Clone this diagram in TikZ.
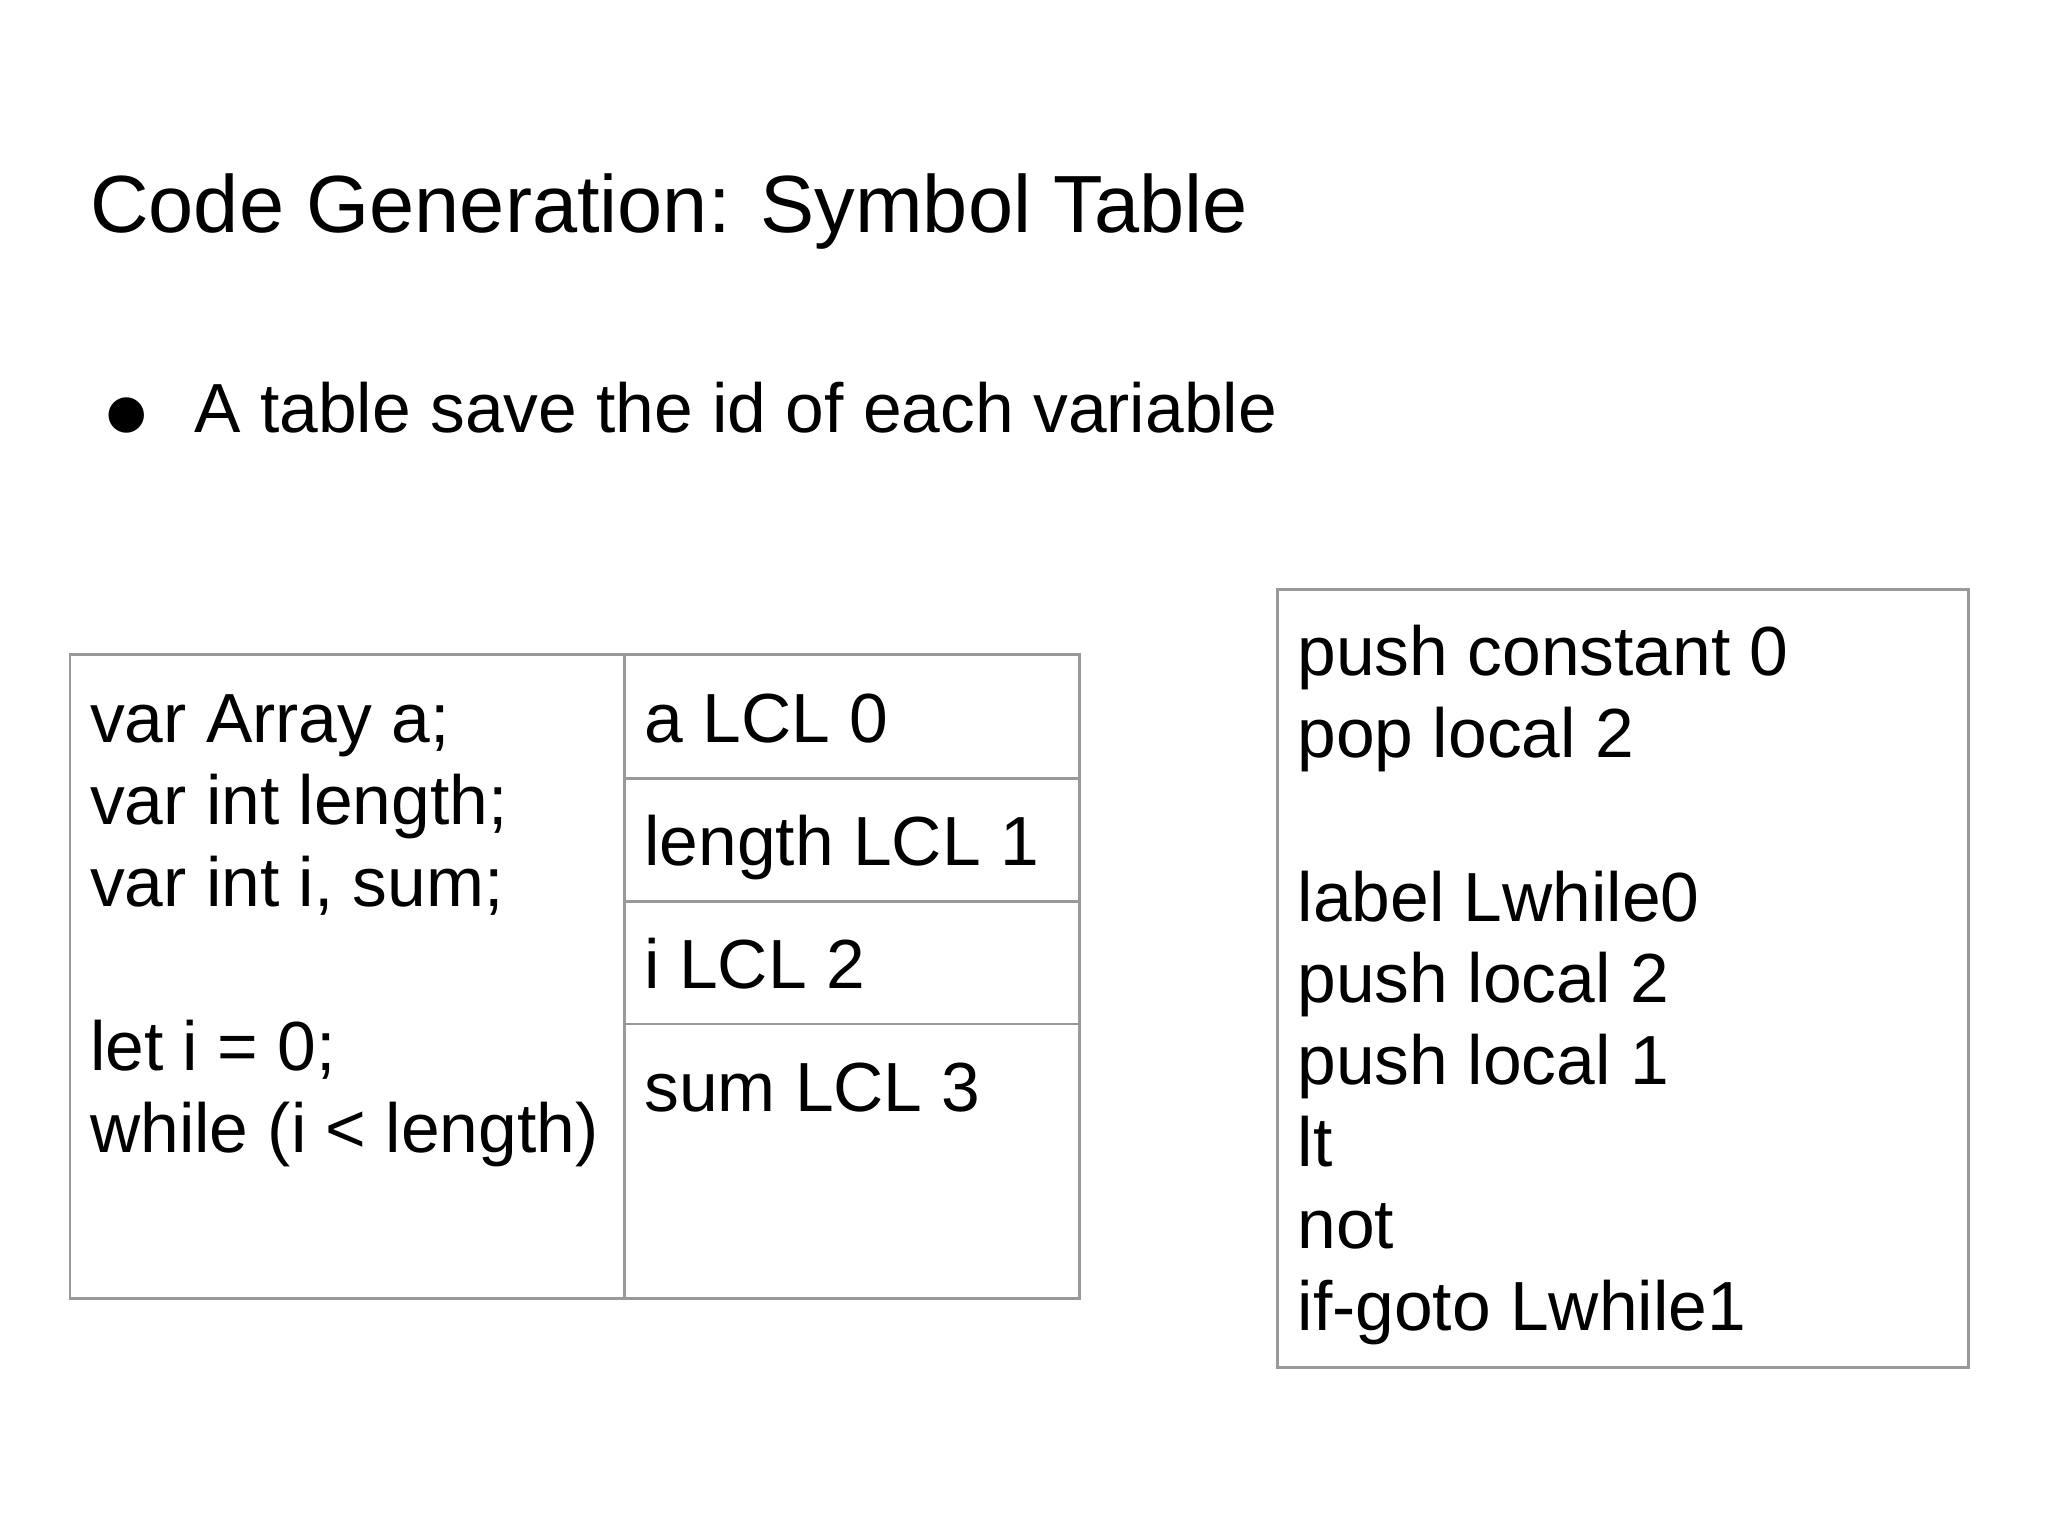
\documentclass[tikz,border=0pt]{standalone}
\usepackage{fontspec}
\setmainfont{Liberation Sans}
\newfontfamily\symfont{DejaVu Sans}
\begin{document}
\begin{tikzpicture}[x=0.02cm,y=-0.02cm,
  txt/.style={anchor=base west,inner sep=0pt,font=\fontsize{30}{36}\selectfont},
  box/.style={draw=black!40,line width=1.2pt}]
\useasboundingbox (0,0) rectangle (1552,1164);
\node[anchor=base west,inner sep=0pt,font=\fontsize{35}{42}\selectfont] (title) at (68,176) {Code Generation: Symbol Table};
\node[anchor=base west,inner sep=0pt,font=\symfont\fontsize{20}{24}\selectfont] (bul) at (80,324) {●};
\node[txt] (b1) at (147,328) {A table save the id of each variable};
% table
\draw[box] (53,496) rectangle (818,984);
\draw[box] (473,496) -- (473,984);
\draw[box] (473,590) -- (818,590);
\draw[box] (473,683) -- (818,683);
\draw[box] (473,776) -- (818,776);
\node[txt] (l1) at (68,563) {var Array a;};
\node[txt] (l2) at (68,625) {var int length;};
\node[txt] (l3) at (68,687) {var int i, sum;};
\node[txt] (l5) at (68,811) {let i = 0;};
\node[txt] (l6) at (68,873) {while (i < length)};
\node[txt] (r1) at (488,563) {a LCL 0};
\node[txt] (r2) at (488,656) {length LCL 1};
\node[txt] (r3) at (488,749) {i LCL 2};
\node[txt] (r4) at (488,842) {sum LCL 3};
% code box
\draw[box] (968,447) rectangle (1492,1036);
\node[txt] (c1) at (983,512) {push constant 0};
\node[txt] (c2) at (983,574) {pop local 2};
\node[txt] (c3) at (983,698) {label Lwhile0};
\node[txt] (c4) at (983,760) {push local 2};
\node[txt] (c5) at (983,822) {push local 1};
\node[txt] (c6) at (983,884) {lt};
\node[txt] (c7) at (983,946) {not};
\node[txt] (c8) at (983,1008) {if-goto Lwhile1};
\end{tikzpicture}
\end{document}
